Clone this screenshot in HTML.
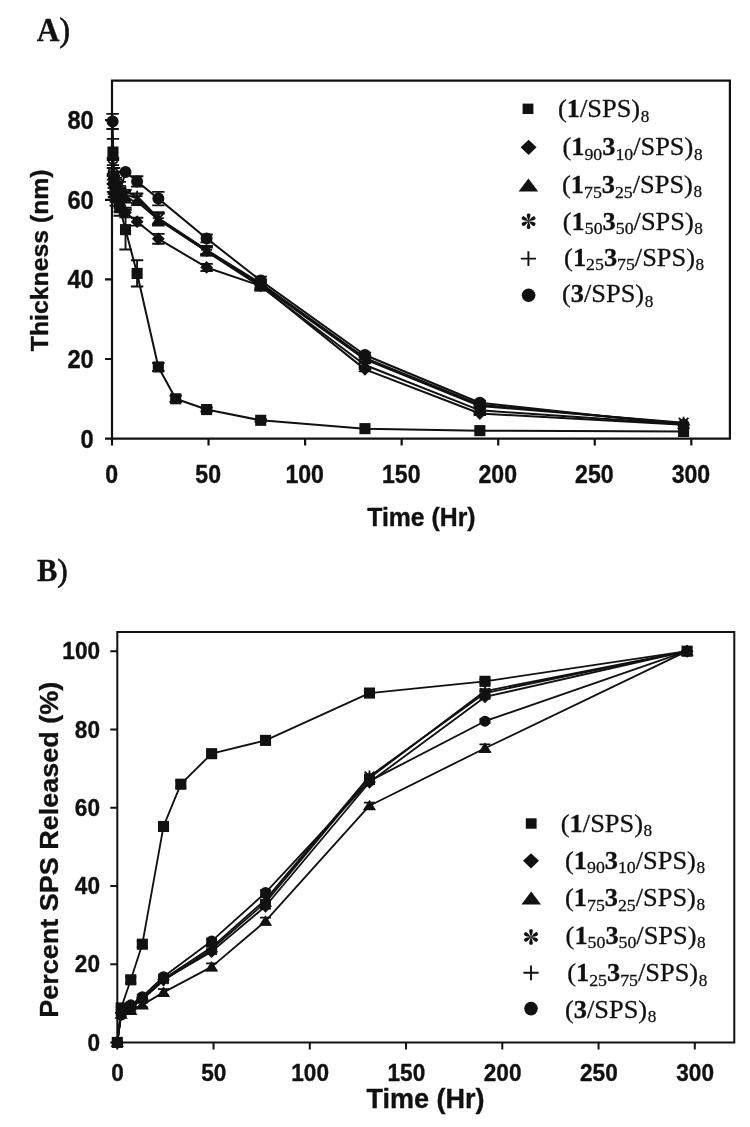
<!DOCTYPE html>
<html lang="en"><head><meta charset="utf-8"><title>Figure</title>
<style>
html,body{margin:0;padding:0;background:#fff}
svg{display:block}
text{fill:#111111}
.tk,.ax{font-family:"Liberation Sans",Arial,sans-serif;font-weight:bold}
.lg{font-family:"Liberation Serif","Times New Roman",serif;font-size:26.4px;stroke:#111111;stroke-width:0.3px}
.pn{font-family:"Liberation Serif","Times New Roman",serif;font-weight:bold;stroke:#111111;stroke-width:0.3px}
</style></head><body>
<svg width="750" height="1127" viewBox="0 0 750 1127">
<rect width="750" height="1127" fill="#fff"/>
<g id="chartA">
<path d="M112,438.6V80.6H729.9V438.6Z" fill="none" stroke="#111111" stroke-width="2.2" stroke-linejoin="miter"/>
<path d="M105,438.6H112M105,359H112M105,279.4H112M105,199.8H112M105,120.2H112M112,438.6V445.6M208.55,438.6V445.6M305.1,438.6V445.6M401.65,438.6V445.6M498.2,438.6V445.6M594.75,438.6V445.6M691.3,438.6V445.6" stroke="#111111" stroke-width="2.2" fill="none"/>
<text transform="translate(93.8,447.5) scale(1.0,1.1)" text-anchor="end" class="tk" font-size="23.7" stroke="#111111" stroke-width="0.35">0</text>
<text transform="translate(93.8,367.9) scale(1.0,1.1)" text-anchor="end" class="tk" font-size="23.7" stroke="#111111" stroke-width="0.35">20</text>
<text transform="translate(93.8,288.3) scale(1.0,1.1)" text-anchor="end" class="tk" font-size="23.7" stroke="#111111" stroke-width="0.35">40</text>
<text transform="translate(93.8,208.7) scale(1.0,1.1)" text-anchor="end" class="tk" font-size="23.7" stroke="#111111" stroke-width="0.35">60</text>
<text transform="translate(93.8,129.1) scale(1.0,1.1)" text-anchor="end" class="tk" font-size="23.7" stroke="#111111" stroke-width="0.35">80</text>
<text transform="translate(111.6,482.6) scale(1.0,1.1)" text-anchor="middle" class="tk" font-size="23.1" stroke="#111111" stroke-width="0.35">0</text>
<text transform="translate(208.15,482.6) scale(1.0,1.1)" text-anchor="middle" class="tk" font-size="23.1" stroke="#111111" stroke-width="0.35">50</text>
<text transform="translate(304.7,482.6) scale(1.0,1.1)" text-anchor="middle" class="tk" font-size="23.1" stroke="#111111" stroke-width="0.35">100</text>
<text transform="translate(401.25,482.6) scale(1.0,1.1)" text-anchor="middle" class="tk" font-size="23.1" stroke="#111111" stroke-width="0.35">150</text>
<text transform="translate(497.8,482.6) scale(1.0,1.1)" text-anchor="middle" class="tk" font-size="23.1" stroke="#111111" stroke-width="0.35">200</text>
<text transform="translate(594.35,482.6) scale(1.0,1.1)" text-anchor="middle" class="tk" font-size="23.1" stroke="#111111" stroke-width="0.35">250</text>
<text transform="translate(690.9,482.6) scale(1.0,1.1)" text-anchor="middle" class="tk" font-size="23.1" stroke="#111111" stroke-width="0.35">300</text>
<text transform="translate(421.4,525.6) scale(1.0,1.04)" text-anchor="middle" class="ax" font-size="24.8" stroke="#111111" stroke-width="0.35">Time (Hr)</text>
<text transform="translate(48.2,260.3) rotate(-90) scale(1.0,0.99)" text-anchor="middle" class="ax" font-size="24.8" stroke="#111111" stroke-width="0.35">Thickness (nm)</text>
<path d="M112.97,152.04L113.93,175.92L115.86,191.84L119.72,207.76L125.52,229.65L137.1,273.43L158.34,366.96L175.72,398.8L206.62,409.55L260.69,420.29L364.96,428.65L479.86,430.64L683.58,431.44" fill="none" stroke="#111111" stroke-width="2.0" stroke-linejoin="round"/>
<path d="M112.97,138.91V165.17M106.77,138.91H119.17M106.77,165.17H119.17M113.93,167.96V183.88M107.73,167.96H120.13M107.73,183.88H120.13M115.86,183.88V199.8M109.66,183.88H122.06M109.66,199.8H122.06M119.72,199.8V215.72M113.52,199.8H125.92M113.52,215.72H125.92M125.52,209.75V249.55M119.32,209.75H131.72M119.32,249.55H131.72M137.1,260.3V286.56M130.9,260.3H143.3M130.9,286.56H143.3M158.34,362.98V370.94M152.14,362.98H164.54M152.14,370.94H164.54M175.72,395.62V401.98M169.52,395.62H181.92M169.52,401.98H181.92M206.62,407.56V411.54M200.42,407.56H212.82M200.42,411.54H212.82M260.69,419.1V421.49M254.49,419.1H266.89M254.49,421.49H266.89" fill="none" stroke="#111111" stroke-width="1.9"/>
<rect x="107.42" y="146.49" width="11.1" height="11.1" fill="#111111"/>
<rect x="108.38" y="170.37" width="11.1" height="11.1" fill="#111111"/>
<rect x="110.31" y="186.29" width="11.1" height="11.1" fill="#111111"/>
<rect x="114.17" y="202.21" width="11.1" height="11.1" fill="#111111"/>
<rect x="119.97" y="224.1" width="11.1" height="11.1" fill="#111111"/>
<rect x="131.55" y="267.88" width="11.1" height="11.1" fill="#111111"/>
<rect x="152.79" y="361.41" width="11.1" height="11.1" fill="#111111"/>
<rect x="170.17" y="393.25" width="11.1" height="11.1" fill="#111111"/>
<rect x="201.07" y="404" width="11.1" height="11.1" fill="#111111"/>
<rect x="255.14" y="414.74" width="11.1" height="11.1" fill="#111111"/>
<rect x="359.41" y="423.1" width="11.1" height="11.1" fill="#111111"/>
<rect x="474.31" y="425.09" width="11.1" height="11.1" fill="#111111"/>
<rect x="678.03" y="425.89" width="11.1" height="11.1" fill="#111111"/>
<path d="M112.97,183.88L113.93,193.83L115.86,199.8L119.72,205.77L125.52,212.54L137.1,221.69L158.34,238.8L206.62,267.46L260.69,285.77L364.96,369.35L479.86,413.53L683.58,424.67" fill="none" stroke="#111111" stroke-width="2.0" stroke-linejoin="round"/>
<path d="M112.97,175.92V191.84M106.77,175.92H119.17M106.77,191.84H119.17M113.93,187.86V199.8M107.73,187.86H120.13M107.73,199.8H120.13M115.86,193.83V205.77M109.66,193.83H122.06M109.66,205.77H122.06M119.72,199.8V211.74M113.52,199.8H125.92M113.52,211.74H125.92M125.52,207.76V217.31M119.32,207.76H131.72M119.32,217.31H131.72M137.1,217.71V225.67M130.9,217.71H143.3M130.9,225.67H143.3M158.34,233.83V243.78M152.14,233.83H164.54M152.14,243.78H164.54M206.62,263.88V271.04M200.42,263.88H212.82M200.42,271.04H212.82M260.69,281.79V289.75M254.49,281.79H266.89M254.49,289.75H266.89M364.96,367.36V371.34M358.76,367.36H371.16M358.76,371.34H371.16M479.86,411.93V415.12M473.66,411.93H486.06M473.66,415.12H486.06" fill="none" stroke="#111111" stroke-width="1.9"/>
<polygon points="112.97,177.48 119.37,183.88 112.97,190.28 106.57,183.88" fill="#111111"/>
<polygon points="113.93,187.43 120.33,193.83 113.93,200.23 107.53,193.83" fill="#111111"/>
<polygon points="115.86,193.4 122.26,199.8 115.86,206.2 109.46,199.8" fill="#111111"/>
<polygon points="119.72,199.37 126.12,205.77 119.72,212.17 113.32,205.77" fill="#111111"/>
<polygon points="125.52,206.14 131.92,212.54 125.52,218.94 119.12,212.54" fill="#111111"/>
<polygon points="137.1,215.29 143.5,221.69 137.1,228.09 130.7,221.69" fill="#111111"/>
<polygon points="158.34,232.4 164.74,238.8 158.34,245.2 151.94,238.8" fill="#111111"/>
<polygon points="206.62,261.06 213.02,267.46 206.62,273.86 200.22,267.46" fill="#111111"/>
<polygon points="260.69,279.37 267.09,285.77 260.69,292.17 254.29,285.77" fill="#111111"/>
<polygon points="364.96,362.95 371.36,369.35 364.96,375.75 358.56,369.35" fill="#111111"/>
<polygon points="479.86,407.13 486.26,413.53 479.86,419.93 473.46,413.53" fill="#111111"/>
<polygon points="683.58,418.27 689.98,424.67 683.58,431.07 677.18,424.67" fill="#111111"/>
<path d="M112.97,175.92L113.93,189.85L115.86,195.82L119.72,201.79L125.52,199L137.1,201.39L158.34,219.7L206.62,251.54L260.69,286.56L364.96,364.97L479.86,410.34L683.58,424.27" fill="none" stroke="#111111" stroke-width="2.0" stroke-linejoin="round"/>
<path d="M112.97,167.96V183.88M106.77,167.96H119.17M106.77,183.88H119.17M113.93,182.69V197.01M107.73,182.69H120.13M107.73,197.01H120.13M115.86,189.85V201.79M109.66,189.85H122.06M109.66,201.79H122.06M119.72,195.82V207.76M113.52,195.82H125.92M113.52,207.76H125.92M158.34,213.73V225.67M152.14,213.73H164.54M152.14,225.67H164.54M206.62,247.56V255.52M200.42,247.56H212.82M200.42,255.52H212.82M260.69,282.58V290.54M254.49,282.58H266.89M254.49,290.54H266.89M364.96,362.98V366.96M358.76,362.98H371.16M358.76,366.96H371.16M479.86,408.75V411.93M473.66,408.75H486.06M473.66,411.93H486.06" fill="none" stroke="#111111" stroke-width="1.9"/>
<polygon points="112.97,169.92 119.57,180.52 106.37,180.52" fill="#111111"/>
<polygon points="113.93,183.85 120.53,194.45 107.33,194.45" fill="#111111"/>
<polygon points="115.86,189.82 122.46,200.42 109.26,200.42" fill="#111111"/>
<polygon points="119.72,195.79 126.32,206.39 113.12,206.39" fill="#111111"/>
<polygon points="125.52,193 132.12,203.6 118.92,203.6" fill="#111111"/>
<polygon points="137.1,195.39 143.7,205.99 130.5,205.99" fill="#111111"/>
<polygon points="158.34,213.7 164.94,224.3 151.74,224.3" fill="#111111"/>
<polygon points="206.62,245.54 213.22,256.14 200.02,256.14" fill="#111111"/>
<polygon points="260.69,280.56 267.29,291.16 254.09,291.16" fill="#111111"/>
<polygon points="364.96,358.97 371.56,369.57 358.36,369.57" fill="#111111"/>
<polygon points="479.86,404.34 486.46,414.94 473.26,414.94" fill="#111111"/>
<polygon points="683.58,418.27 690.18,428.87 676.98,428.87" fill="#111111"/>
<path d="M112.97,165.97L113.93,179.9L115.86,187.86L119.72,193.83L125.52,194.63L137.1,198.21L158.34,218.9L206.62,250.74L260.69,284.97L364.96,359.4L479.86,405.96L683.58,422.68" fill="none" stroke="#111111" stroke-width="2.0" stroke-linejoin="round"/>
<path d="M112.97,158.01V173.93M106.77,158.01H119.17M106.77,173.93H119.17M113.93,171.94V187.86M107.73,171.94H120.13M107.73,187.86H120.13M115.86,181.89V193.83M109.66,181.89H122.06M109.66,193.83H122.06M119.72,187.86V199.8M113.52,187.86H125.92M113.52,199.8H125.92M125.52,189.85V199.4M119.32,189.85H131.72M119.32,199.4H131.72M137.1,193.43V202.98M130.9,193.43H143.3M130.9,202.98H143.3M158.34,212.93V224.87M152.14,212.93H164.54M152.14,224.87H164.54M206.62,246.76V254.72M200.42,246.76H212.82M200.42,254.72H212.82M260.69,280.99V288.95M254.49,280.99H266.89M254.49,288.95H266.89M364.96,357.41V361.39M358.76,357.41H371.16M358.76,361.39H371.16M479.86,404.37V407.56M473.66,404.37H486.06M473.66,407.56H486.06" fill="none" stroke="#111111" stroke-width="1.9"/>
<path d="M112.97,159.97V171.97M108.17,161.17L117.77,170.77M108.17,170.77L117.77,161.17" stroke="#111111" stroke-width="1.8" fill="none"/>
<path d="M113.93,173.9V185.9M109.13,175.1L118.73,184.7M109.13,184.7L118.73,175.1" stroke="#111111" stroke-width="1.8" fill="none"/>
<path d="M115.86,181.86V193.86M111.06,183.06L120.66,192.66M111.06,192.66L120.66,183.06" stroke="#111111" stroke-width="1.8" fill="none"/>
<path d="M119.72,187.83V199.83M114.92,189.03L124.52,198.63M114.92,198.63L124.52,189.03" stroke="#111111" stroke-width="1.8" fill="none"/>
<path d="M125.52,188.63V200.63M120.72,189.83L130.32,199.43M120.72,199.43L130.32,189.83" stroke="#111111" stroke-width="1.8" fill="none"/>
<path d="M137.1,192.21V204.21M132.3,193.41L141.9,203.01M132.3,203.01L141.9,193.41" stroke="#111111" stroke-width="1.8" fill="none"/>
<path d="M158.34,212.9V224.9M153.54,214.1L163.14,223.7M153.54,223.7L163.14,214.1" stroke="#111111" stroke-width="1.8" fill="none"/>
<path d="M206.62,244.74V256.74M201.82,245.94L211.42,255.54M201.82,255.54L211.42,245.94" stroke="#111111" stroke-width="1.8" fill="none"/>
<path d="M260.69,278.97V290.97M255.89,280.17L265.49,289.77M255.89,289.77L265.49,280.17" stroke="#111111" stroke-width="1.8" fill="none"/>
<path d="M364.96,353.4V365.4M360.16,354.6L369.76,364.2M360.16,364.2L369.76,354.6" stroke="#111111" stroke-width="1.8" fill="none"/>
<path d="M479.86,399.96V411.96M475.06,401.16L484.66,410.76M475.06,410.76L484.66,401.16" stroke="#111111" stroke-width="1.8" fill="none"/>
<path d="M683.58,416.68V428.68M678.78,417.88L688.38,427.48M678.78,427.48L688.38,417.88" stroke="#111111" stroke-width="1.8" fill="none"/>
<path d="M112.97,167.96L113.93,175.92L115.86,183.88L119.72,187.86L125.52,191.84L137.1,196.22L158.34,218.11L206.62,249.95L260.69,283.38L364.96,357.81L479.86,404.77L683.58,423.48" fill="none" stroke="#111111" stroke-width="2.0" stroke-linejoin="round"/>
<path d="M112.97,160V175.92M106.77,160H119.17M106.77,175.92H119.17M113.93,167.96V183.88M107.73,167.96H120.13M107.73,183.88H120.13M115.86,177.91V189.85M109.66,177.91H122.06M109.66,189.85H122.06M119.72,181.89V193.83M113.52,181.89H125.92M113.52,193.83H125.92M158.34,212.14V224.08M152.14,212.14H164.54M152.14,224.08H164.54M206.62,245.97V253.93M200.42,245.97H212.82M200.42,253.93H212.82M260.69,279.4V287.36M254.49,279.4H266.89M254.49,287.36H266.89M364.96,355.82V359.8M358.76,355.82H371.16M358.76,359.8H371.16M479.86,403.18V406.36M473.66,403.18H486.06M473.66,406.36H486.06" fill="none" stroke="#111111" stroke-width="1.9"/>
<path d="M107.47,167.96H118.47M112.97,162.46V173.46" stroke="#111111" stroke-width="1.7" fill="none"/>
<path d="M108.43,175.92H119.43M113.93,170.42V181.42" stroke="#111111" stroke-width="1.7" fill="none"/>
<path d="M110.36,183.88H121.36M115.86,178.38V189.38" stroke="#111111" stroke-width="1.7" fill="none"/>
<path d="M114.22,187.86H125.22M119.72,182.36V193.36" stroke="#111111" stroke-width="1.7" fill="none"/>
<path d="M120.02,191.84H131.02M125.52,186.34V197.34" stroke="#111111" stroke-width="1.7" fill="none"/>
<path d="M131.6,196.22H142.6M137.1,190.72V201.72" stroke="#111111" stroke-width="1.7" fill="none"/>
<path d="M152.84,218.11H163.84M158.34,212.61V223.61" stroke="#111111" stroke-width="1.7" fill="none"/>
<path d="M201.12,249.95H212.12M206.62,244.45V255.45" stroke="#111111" stroke-width="1.7" fill="none"/>
<path d="M255.19,283.38H266.19M260.69,277.88V288.88" stroke="#111111" stroke-width="1.7" fill="none"/>
<path d="M359.46,357.81H370.46M364.96,352.31V363.31" stroke="#111111" stroke-width="1.7" fill="none"/>
<path d="M474.36,404.77H485.36M479.86,399.27V410.27" stroke="#111111" stroke-width="1.7" fill="none"/>
<path d="M678.08,423.48H689.08M683.58,417.98V428.98" stroke="#111111" stroke-width="1.7" fill="none"/>
<path d="M112.58,121.39L113.93,183.88L115.86,187.86L119.72,191.84L125.52,171.94L137.1,181.49L158.34,198.61L206.62,238.41L260.69,280.59L364.96,355.02L479.86,402.78L683.58,424.67" fill="none" stroke="#111111" stroke-width="2.0" stroke-linejoin="round"/>
<path d="M112.58,113.83V128.96M106.38,113.83H118.78M106.38,128.96H118.78M113.93,175.92V191.84M107.73,175.92H120.13M107.73,191.84H120.13M115.86,179.9V195.82M109.66,179.9H122.06M109.66,195.82H122.06M119.72,185.87V197.81M113.52,185.87H125.92M113.52,197.81H125.92M137.1,176.32V186.67M130.9,176.32H143.3M130.9,186.67H143.3M158.34,191.84V205.37M152.14,191.84H164.54M152.14,205.37H164.54M206.62,234.43V242.39M200.42,234.43H212.82M200.42,242.39H212.82M260.69,276.61V284.57M254.49,276.61H266.89M254.49,284.57H266.89M364.96,352.63V357.41M358.76,352.63H371.16M358.76,357.41H371.16M479.86,400.79V404.77M473.66,400.79H486.06M473.66,404.77H486.06" fill="none" stroke="#111111" stroke-width="1.9"/>
<circle cx="112.58" cy="121.39" r="6" fill="#111111"/>
<circle cx="113.93" cy="183.88" r="6" fill="#111111"/>
<circle cx="115.86" cy="187.86" r="6" fill="#111111"/>
<circle cx="119.72" cy="191.84" r="6" fill="#111111"/>
<circle cx="125.52" cy="171.94" r="6" fill="#111111"/>
<circle cx="137.1" cy="181.49" r="6" fill="#111111"/>
<circle cx="158.34" cy="198.61" r="6" fill="#111111"/>
<circle cx="206.62" cy="238.41" r="6" fill="#111111"/>
<circle cx="260.69" cy="280.59" r="6" fill="#111111"/>
<circle cx="364.96" cy="355.02" r="6" fill="#111111"/>
<circle cx="479.86" cy="402.78" r="6" fill="#111111"/>
<circle cx="683.58" cy="424.67" r="6" fill="#111111"/>
<rect x="522.6" y="103.6" width="10.8" height="10.4" fill="#111111"/>
<text transform="translate(558,117.3) scale(1,0.945)" class="lg">(<tspan font-weight="bold">1</tspan>/SPS)<tspan font-size="17.2" dy="4.5" dx="0.6">8</tspan></text>
<polygon points="528.6,139.7 536.6,147.3 528.6,154.9 520.6,147.3" fill="#111111"/>
<text transform="translate(562.4,155.4) scale(1,0.945)" class="lg">(<tspan font-weight="bold">1</tspan><tspan font-size="17.8" dy="4.9">90</tspan><tspan font-weight="bold" dy="-4.9">3</tspan><tspan font-size="17.8" dy="4.9">10</tspan><tspan dy="-4.9">/SPS)</tspan><tspan font-size="17.2" dy="4.5" dx="0.6">8</tspan></text>
<polygon points="528.4,178.5 538.2,191.5 518.6,191.5" fill="#111111"/>
<text transform="translate(562,193.2) scale(1,0.945)" class="lg">(<tspan font-weight="bold">1</tspan><tspan font-size="17.8" dy="4.9">75</tspan><tspan font-weight="bold" dy="-4.9">3</tspan><tspan font-size="17.8" dy="4.9">25</tspan><tspan dy="-4.9">/SPS)</tspan><tspan font-size="17.2" dy="4.5" dx="0.6">8</tspan></text>
<path transform="translate(528.6,221.2) rotate(0)" d="M0,0.3 C-0.9,-2.4 -2.2,-5.2 -1.75,-6.7 C-1.4,-8.0 1.4,-8.0 1.75,-6.7 C2.2,-5.2 0.9,-2.4 0,0.3Z" fill="#111111"/><path transform="translate(528.6,221.2) rotate(60)" d="M0,0.3 C-0.9,-2.4 -2.2,-5.2 -1.75,-6.7 C-1.4,-8.0 1.4,-8.0 1.75,-6.7 C2.2,-5.2 0.9,-2.4 0,0.3Z" fill="#111111"/><path transform="translate(528.6,221.2) rotate(120)" d="M0,0.3 C-0.9,-2.4 -2.2,-5.2 -1.75,-6.7 C-1.4,-8.0 1.4,-8.0 1.75,-6.7 C2.2,-5.2 0.9,-2.4 0,0.3Z" fill="#111111"/><path transform="translate(528.6,221.2) rotate(180)" d="M0,0.3 C-0.9,-2.4 -2.2,-5.2 -1.75,-6.7 C-1.4,-8.0 1.4,-8.0 1.75,-6.7 C2.2,-5.2 0.9,-2.4 0,0.3Z" fill="#111111"/><path transform="translate(528.6,221.2) rotate(240)" d="M0,0.3 C-0.9,-2.4 -2.2,-5.2 -1.75,-6.7 C-1.4,-8.0 1.4,-8.0 1.75,-6.7 C2.2,-5.2 0.9,-2.4 0,0.3Z" fill="#111111"/><path transform="translate(528.6,221.2) rotate(300)" d="M0,0.3 C-0.9,-2.4 -2.2,-5.2 -1.75,-6.7 C-1.4,-8.0 1.4,-8.0 1.75,-6.7 C2.2,-5.2 0.9,-2.4 0,0.3Z" fill="#111111"/>
<text transform="translate(562.8,229.8) scale(1,0.945)" class="lg">(<tspan font-weight="bold">1</tspan><tspan font-size="17.8" dy="4.9">50</tspan><tspan font-weight="bold" dy="-4.9">3</tspan><tspan font-size="17.8" dy="4.9">50</tspan><tspan dy="-4.9">/SPS)</tspan><tspan font-size="17.2" dy="4.5" dx="0.6">8</tspan></text>
<path d="M520.8,258.6H536M528.4,251.2V266" stroke="#111111" stroke-width="1.9" fill="none"/>
<text transform="translate(564.1,265.5) scale(1,0.945)" class="lg">(<tspan font-weight="bold">1</tspan><tspan font-size="17.8" dy="4.9">25</tspan><tspan font-weight="bold" dy="-4.9">3</tspan><tspan font-size="17.8" dy="4.9">75</tspan><tspan dy="-4.9">/SPS)</tspan><tspan font-size="17.2" dy="4.5" dx="0.6">8</tspan></text>
<circle cx="528.6" cy="295.2" r="6.8" fill="#111111"/>
<text transform="translate(562,302.3) scale(1,0.945)" class="lg">(<tspan font-weight="bold">3</tspan>/SPS)<tspan font-size="17.2" dy="4.5" dx="0.6">8</tspan></text>
<text transform="translate(36.8,40.8) scale(0.94,1.0)" text-anchor="start" class="pn" font-size="33.5">A<tspan font-weight="normal" stroke="#111111" stroke-width="0.7">)</tspan></text>
</g>
<g id="chartB">
<path d="M117.3,1042.4V632H734.3V1042.4Z" fill="none" stroke="#111111" stroke-width="2" stroke-linejoin="miter"/>
<path d="M110.3,1042.4H117.3M110.3,964.16H117.3M110.3,885.92H117.3M110.3,807.68H117.3M110.3,729.44H117.3M110.3,651.2H117.3M117.3,1042.4V1049.4M213.55,1042.4V1049.4M309.8,1042.4V1049.4M406.05,1042.4V1049.4M502.3,1042.4V1049.4M598.55,1042.4V1049.4M694.8,1042.4V1049.4" stroke="#111111" stroke-width="2" fill="none"/>
<text transform="translate(100,1050.5) scale(1.0,1.06)" text-anchor="end" class="tk" font-size="22.6" stroke="#111111" stroke-width="0.35">0</text>
<text transform="translate(100,972.26) scale(1.0,1.06)" text-anchor="end" class="tk" font-size="22.6" stroke="#111111" stroke-width="0.35">20</text>
<text transform="translate(100,894.02) scale(1.0,1.06)" text-anchor="end" class="tk" font-size="22.6" stroke="#111111" stroke-width="0.35">40</text>
<text transform="translate(100,815.78) scale(1.0,1.06)" text-anchor="end" class="tk" font-size="22.6" stroke="#111111" stroke-width="0.35">60</text>
<text transform="translate(100,737.54) scale(1.0,1.06)" text-anchor="end" class="tk" font-size="22.6" stroke="#111111" stroke-width="0.35">80</text>
<text transform="translate(100,659.3) scale(1.0,1.06)" text-anchor="end" class="tk" font-size="22.6" stroke="#111111" stroke-width="0.35">100</text>
<text transform="translate(117.6,1081) scale(1.0,1.06)" text-anchor="middle" class="tk" font-size="22.6" stroke="#111111" stroke-width="0.35">0</text>
<text transform="translate(213.85,1081) scale(1.0,1.06)" text-anchor="middle" class="tk" font-size="22.6" stroke="#111111" stroke-width="0.35">50</text>
<text transform="translate(310.1,1081) scale(1.0,1.06)" text-anchor="middle" class="tk" font-size="22.6" stroke="#111111" stroke-width="0.35">100</text>
<text transform="translate(406.35,1081) scale(1.0,1.06)" text-anchor="middle" class="tk" font-size="22.6" stroke="#111111" stroke-width="0.35">150</text>
<text transform="translate(502.6,1081) scale(1.0,1.06)" text-anchor="middle" class="tk" font-size="22.6" stroke="#111111" stroke-width="0.35">200</text>
<text transform="translate(598.85,1081) scale(1.0,1.06)" text-anchor="middle" class="tk" font-size="22.6" stroke="#111111" stroke-width="0.35">250</text>
<text transform="translate(695.1,1081) scale(1.0,1.06)" text-anchor="middle" class="tk" font-size="22.6" stroke="#111111" stroke-width="0.35">300</text>
<text transform="translate(425.4,1108.2) scale(1.0,1.03)" text-anchor="middle" class="ax" font-size="27" stroke="#111111" stroke-width="0.35">Time (Hr)</text>
<text transform="translate(57.6,849.7) rotate(-90) scale(1.0,0.97)" text-anchor="middle" class="ax" font-size="27" stroke="#111111" stroke-width="0.35">Percent SPS Released (%)</text>
<path d="M117.3,1042.4L121.15,1007.97L130.78,979.81L142.32,944.21L163.5,826.46L180.82,784.21L211.62,753.69L265.52,740.39L369.48,693.06L484.98,681.32L687.1,651.2" fill="none" stroke="#111111" stroke-width="1.85" stroke-linejoin="round"/>
<path d="M130.78,976.68V982.94M125.28,976.68H136.28M125.28,982.94H136.28M142.32,941.08V947.34M136.82,941.08H147.82M136.82,947.34H147.82M163.5,822.55V830.37M158,822.55H169M158,830.37H169M180.82,781.08V787.34M175.32,781.08H186.32M175.32,787.34H186.32M211.62,751.35V756.04M206.12,751.35H217.12M206.12,756.04H217.12M265.52,738.44V742.35M260.02,738.44H271.02M260.02,742.35H271.02M369.48,691.1V695.01M363.98,691.1H374.98M363.98,695.01H374.98M484.98,679.37V683.28M479.48,679.37H490.48M479.48,683.28H490.48" fill="none" stroke="#111111" stroke-width="1.8"/>
<rect x="111.75" y="1036.85" width="11.1" height="11.1" fill="#111111"/>
<rect x="115.6" y="1002.42" width="11.1" height="11.1" fill="#111111"/>
<rect x="125.23" y="974.26" width="11.1" height="11.1" fill="#111111"/>
<rect x="136.77" y="938.66" width="11.1" height="11.1" fill="#111111"/>
<rect x="157.95" y="820.91" width="11.1" height="11.1" fill="#111111"/>
<rect x="175.27" y="778.66" width="11.1" height="11.1" fill="#111111"/>
<rect x="206.07" y="748.14" width="11.1" height="11.1" fill="#111111"/>
<rect x="259.97" y="734.84" width="11.1" height="11.1" fill="#111111"/>
<rect x="363.93" y="687.51" width="11.1" height="11.1" fill="#111111"/>
<rect x="479.43" y="675.77" width="11.1" height="11.1" fill="#111111"/>
<rect x="681.55" y="645.65" width="11.1" height="11.1" fill="#111111"/>
<path d="M117.3,1042.4L121.15,1013.06L130.78,1007.19L142.32,999.37L163.5,979.81L211.62,951.64L265.52,906.26L369.48,782.25L484.98,696.97L687.1,651.2" fill="none" stroke="#111111" stroke-width="1.85" stroke-linejoin="round"/>
<path d="M130.78,1005.63V1008.76M125.28,1005.63H136.28M125.28,1008.76H136.28M142.32,997.8V1000.93M136.82,997.8H147.82M136.82,1000.93H147.82M163.5,977.85V981.76M158,977.85H169M158,981.76H169M211.62,949.29V953.99M206.12,949.29H217.12M206.12,953.99H217.12M265.52,903.92V908.61M260.02,903.92H271.02M260.02,908.61H271.02M369.48,780.3V784.21M363.98,780.3H374.98M363.98,784.21H374.98M484.98,695.01V698.93M479.48,695.01H490.48M479.48,698.93H490.48" fill="none" stroke="#111111" stroke-width="1.8"/>
<polygon points="117.3,1036 123.7,1042.4 117.3,1048.8 110.9,1042.4" fill="#111111"/>
<polygon points="121.15,1006.66 127.55,1013.06 121.15,1019.46 114.75,1013.06" fill="#111111"/>
<polygon points="130.78,1000.79 137.18,1007.19 130.78,1013.59 124.38,1007.19" fill="#111111"/>
<polygon points="142.32,992.97 148.72,999.37 142.32,1005.77 135.92,999.37" fill="#111111"/>
<polygon points="163.5,973.41 169.9,979.81 163.5,986.21 157.1,979.81" fill="#111111"/>
<polygon points="211.62,945.24 218.03,951.64 211.62,958.04 205.22,951.64" fill="#111111"/>
<polygon points="265.52,899.86 271.92,906.26 265.52,912.66 259.12,906.26" fill="#111111"/>
<polygon points="369.48,775.85 375.88,782.25 369.48,788.65 363.08,782.25" fill="#111111"/>
<polygon points="484.98,690.57 491.38,696.97 484.98,703.37 478.58,696.97" fill="#111111"/>
<polygon points="687.1,644.8 693.5,651.2 687.1,657.6 680.7,651.2" fill="#111111"/>
<path d="M117.3,1042.4L121.15,1014.23L130.78,1010.32L142.32,1004.84L163.5,992.33L211.62,966.9L265.52,921.13L369.48,805.72L484.98,748.22L687.1,651.2" fill="none" stroke="#111111" stroke-width="1.85" stroke-linejoin="round"/>
<path d="M130.78,1008.37V1012.28M125.28,1008.37H136.28M125.28,1012.28H136.28M142.32,1002.5V1007.19M136.82,1002.5H147.82M136.82,1007.19H147.82M163.5,989.2V995.46M158,989.2H169M158,995.46H169M211.62,963.38V970.42M206.12,963.38H217.12M206.12,970.42H217.12M265.52,917.61V924.65M260.02,917.61H271.02M260.02,924.65H271.02M369.48,802.59V808.85M363.98,802.59H374.98M363.98,808.85H374.98M484.98,744.31V752.13M479.48,744.31H490.48M479.48,752.13H490.48" fill="none" stroke="#111111" stroke-width="1.8"/>
<polygon points="117.3,1036.4 123.9,1047 110.7,1047" fill="#111111"/>
<polygon points="121.15,1008.23 127.75,1018.83 114.55,1018.83" fill="#111111"/>
<polygon points="130.78,1004.32 137.38,1014.92 124.18,1014.92" fill="#111111"/>
<polygon points="142.32,998.84 148.92,1009.44 135.72,1009.44" fill="#111111"/>
<polygon points="163.5,986.33 170.1,996.93 156.9,996.93" fill="#111111"/>
<polygon points="211.62,960.9 218.22,971.5 205.03,971.5" fill="#111111"/>
<polygon points="265.52,915.13 272.12,925.73 258.92,925.73" fill="#111111"/>
<polygon points="369.48,799.72 376.08,810.32 362.88,810.32" fill="#111111"/>
<polygon points="484.98,742.22 491.58,752.82 478.38,752.82" fill="#111111"/>
<polygon points="687.1,645.2 693.7,655.8 680.5,655.8" fill="#111111"/>
<path d="M117.3,1042.4L121.15,1011.89L130.78,1006.41L142.32,998.59L163.5,979.03L211.62,947.34L265.52,899.61L369.48,776.38L484.98,693.06L687.1,651.2" fill="none" stroke="#111111" stroke-width="1.85" stroke-linejoin="round"/>
<path d="M130.78,1004.84V1007.97M125.28,1004.84H136.28M125.28,1007.97H136.28M142.32,997.02V1000.15M136.82,997.02H147.82M136.82,1000.15H147.82M163.5,977.07V980.98M158,977.07H169M158,980.98H169M211.62,944.99V949.69M206.12,944.99H217.12M206.12,949.69H217.12M265.52,897.26V901.96M260.02,897.26H271.02M260.02,901.96H271.02M369.48,774.43V778.34M363.98,774.43H374.98M363.98,778.34H374.98M484.98,691.1V695.01M479.48,691.1H490.48M479.48,695.01H490.48" fill="none" stroke="#111111" stroke-width="1.8"/>
<path d="M117.3,1036.4V1048.4M112.5,1037.6L122.1,1047.2M112.5,1047.2L122.1,1037.6" stroke="#111111" stroke-width="1.8" fill="none"/>
<path d="M121.15,1005.89V1017.89M116.35,1007.09L125.95,1016.69M116.35,1016.69L125.95,1007.09" stroke="#111111" stroke-width="1.8" fill="none"/>
<path d="M130.78,1000.41V1012.41M125.98,1001.61L135.58,1011.21M125.98,1011.21L135.58,1001.61" stroke="#111111" stroke-width="1.8" fill="none"/>
<path d="M142.32,992.59V1004.59M137.52,993.79L147.12,1003.39M137.52,1003.39L147.12,993.79" stroke="#111111" stroke-width="1.8" fill="none"/>
<path d="M163.5,973.03V985.03M158.7,974.23L168.3,983.83M158.7,983.83L168.3,974.23" stroke="#111111" stroke-width="1.8" fill="none"/>
<path d="M211.62,941.34V953.34M206.82,942.54L216.43,952.14M206.82,952.14L216.43,942.54" stroke="#111111" stroke-width="1.8" fill="none"/>
<path d="M265.52,893.61V905.61M260.72,894.81L270.32,904.41M260.72,904.41L270.32,894.81" stroke="#111111" stroke-width="1.8" fill="none"/>
<path d="M369.48,770.38V782.38M364.68,771.58L374.28,781.18M364.68,781.18L374.28,771.58" stroke="#111111" stroke-width="1.8" fill="none"/>
<path d="M484.98,687.06V699.06M480.18,688.26L489.78,697.86M480.18,697.86L489.78,688.26" stroke="#111111" stroke-width="1.8" fill="none"/>
<path d="M687.1,645.2V657.2M682.3,646.4L691.9,656M682.3,656L691.9,646.4" stroke="#111111" stroke-width="1.8" fill="none"/>
<path d="M117.3,1042.4L121.15,1012.67L130.78,1007.19L142.32,999.37L163.5,980.59L211.62,949.29L265.52,902.35L369.48,777.95L484.98,691.1L687.1,651.2" fill="none" stroke="#111111" stroke-width="1.85" stroke-linejoin="round"/>
<path d="M130.78,1005.63V1008.76M125.28,1005.63H136.28M125.28,1008.76H136.28M142.32,997.8V1000.93M136.82,997.8H147.82M136.82,1000.93H147.82M163.5,978.63V982.55M158,978.63H169M158,982.55H169M211.62,946.95V951.64M206.12,946.95H217.12M206.12,951.64H217.12M265.52,900V904.7M260.02,900H271.02M260.02,904.7H271.02M369.48,775.99V779.9M363.98,775.99H374.98M363.98,779.9H374.98M484.98,689.15V693.06M479.48,689.15H490.48M479.48,693.06H490.48" fill="none" stroke="#111111" stroke-width="1.8"/>
<path d="M111.8,1042.4H122.8M117.3,1036.9V1047.9" stroke="#111111" stroke-width="1.7" fill="none"/>
<path d="M115.65,1012.67H126.65M121.15,1007.17V1018.17" stroke="#111111" stroke-width="1.7" fill="none"/>
<path d="M125.28,1007.19H136.28M130.78,1001.69V1012.69" stroke="#111111" stroke-width="1.7" fill="none"/>
<path d="M136.82,999.37H147.82M142.32,993.87V1004.87" stroke="#111111" stroke-width="1.7" fill="none"/>
<path d="M158,980.59H169M163.5,975.09V986.09" stroke="#111111" stroke-width="1.7" fill="none"/>
<path d="M206.12,949.29H217.12M211.62,943.79V954.79" stroke="#111111" stroke-width="1.7" fill="none"/>
<path d="M260.02,902.35H271.02M265.52,896.85V907.85" stroke="#111111" stroke-width="1.7" fill="none"/>
<path d="M363.98,777.95H374.98M369.48,772.45V783.45" stroke="#111111" stroke-width="1.7" fill="none"/>
<path d="M479.48,691.1H490.48M484.98,685.6V696.6" stroke="#111111" stroke-width="1.7" fill="none"/>
<path d="M681.6,651.2H692.6M687.1,645.7V656.7" stroke="#111111" stroke-width="1.7" fill="none"/>
<path d="M117.3,1042.4L121.15,1015.02L130.78,1004.84L142.32,996.63L163.5,976.68L211.62,941.08L265.52,892.57L369.48,781.08L484.98,721.22L687.1,651.2" fill="none" stroke="#111111" stroke-width="1.85" stroke-linejoin="round"/>
<path d="M130.78,1003.28V1006.41M125.28,1003.28H136.28M125.28,1006.41H136.28M142.32,995.06V998.19M136.82,995.06H147.82M136.82,998.19H147.82M163.5,974.72V978.63M158,974.72H169M158,978.63H169M211.62,938.73V943.43M206.12,938.73H217.12M206.12,943.43H217.12M265.52,890.22V894.92M260.02,890.22H271.02M260.02,894.92H271.02M369.48,779.12V783.03M363.98,779.12H374.98M363.98,783.03H374.98M484.98,719.27V723.18M479.48,719.27H490.48M479.48,723.18H490.48" fill="none" stroke="#111111" stroke-width="1.8"/>
<circle cx="117.3" cy="1042.4" r="5.5" fill="#111111"/>
<circle cx="121.15" cy="1015.02" r="5.5" fill="#111111"/>
<circle cx="130.78" cy="1004.84" r="5.5" fill="#111111"/>
<circle cx="142.32" cy="996.63" r="5.5" fill="#111111"/>
<circle cx="163.5" cy="976.68" r="5.5" fill="#111111"/>
<circle cx="211.62" cy="941.08" r="5.5" fill="#111111"/>
<circle cx="265.52" cy="892.57" r="5.5" fill="#111111"/>
<circle cx="369.48" cy="781.08" r="5.5" fill="#111111"/>
<circle cx="484.98" cy="721.22" r="5.5" fill="#111111"/>
<circle cx="687.1" cy="651.2" r="5.5" fill="#111111"/>
<rect x="525.8" y="818.3" width="10.8" height="10.4" fill="#111111"/>
<text transform="translate(560.8,831.6) scale(1,0.945)" class="lg">(<tspan font-weight="bold">1</tspan>/SPS)<tspan font-size="17.2" dy="4.5" dx="0.6">8</tspan></text>
<polygon points="531,853.2 539,860.8 531,868.4 523,860.8" fill="#111111"/>
<text transform="translate(565,868.8) scale(1,0.945)" class="lg">(<tspan font-weight="bold">1</tspan><tspan font-size="17.8" dy="4.9">90</tspan><tspan font-weight="bold" dy="-4.9">3</tspan><tspan font-size="17.8" dy="4.9">10</tspan><tspan dy="-4.9">/SPS)</tspan><tspan font-size="17.2" dy="4.5" dx="0.6">8</tspan></text>
<polygon points="531.2,891.6 541,904.6 521.4,904.6" fill="#111111"/>
<text transform="translate(565,906.2) scale(1,0.945)" class="lg">(<tspan font-weight="bold">1</tspan><tspan font-size="17.8" dy="4.9">75</tspan><tspan font-weight="bold" dy="-4.9">3</tspan><tspan font-size="17.8" dy="4.9">25</tspan><tspan dy="-4.9">/SPS)</tspan><tspan font-size="17.2" dy="4.5" dx="0.6">8</tspan></text>
<path transform="translate(531,937) rotate(0)" d="M0,0.3 C-0.9,-2.4 -2.2,-5.2 -1.75,-6.7 C-1.4,-8.0 1.4,-8.0 1.75,-6.7 C2.2,-5.2 0.9,-2.4 0,0.3Z" fill="#111111"/><path transform="translate(531,937) rotate(60)" d="M0,0.3 C-0.9,-2.4 -2.2,-5.2 -1.75,-6.7 C-1.4,-8.0 1.4,-8.0 1.75,-6.7 C2.2,-5.2 0.9,-2.4 0,0.3Z" fill="#111111"/><path transform="translate(531,937) rotate(120)" d="M0,0.3 C-0.9,-2.4 -2.2,-5.2 -1.75,-6.7 C-1.4,-8.0 1.4,-8.0 1.75,-6.7 C2.2,-5.2 0.9,-2.4 0,0.3Z" fill="#111111"/><path transform="translate(531,937) rotate(180)" d="M0,0.3 C-0.9,-2.4 -2.2,-5.2 -1.75,-6.7 C-1.4,-8.0 1.4,-8.0 1.75,-6.7 C2.2,-5.2 0.9,-2.4 0,0.3Z" fill="#111111"/><path transform="translate(531,937) rotate(240)" d="M0,0.3 C-0.9,-2.4 -2.2,-5.2 -1.75,-6.7 C-1.4,-8.0 1.4,-8.0 1.75,-6.7 C2.2,-5.2 0.9,-2.4 0,0.3Z" fill="#111111"/><path transform="translate(531,937) rotate(300)" d="M0,0.3 C-0.9,-2.4 -2.2,-5.2 -1.75,-6.7 C-1.4,-8.0 1.4,-8.0 1.75,-6.7 C2.2,-5.2 0.9,-2.4 0,0.3Z" fill="#111111"/>
<text transform="translate(565.6,943.6) scale(1,0.945)" class="lg">(<tspan font-weight="bold">1</tspan><tspan font-size="17.8" dy="4.9">50</tspan><tspan font-weight="bold" dy="-4.9">3</tspan><tspan font-size="17.8" dy="4.9">50</tspan><tspan dy="-4.9">/SPS)</tspan><tspan font-size="17.2" dy="4.5" dx="0.6">8</tspan></text>
<path d="M523.4,972.8H538.6M531,965.4V980.2" stroke="#111111" stroke-width="1.9" fill="none"/>
<text transform="translate(567.2,981.4) scale(1,0.945)" class="lg">(<tspan font-weight="bold">1</tspan><tspan font-size="17.8" dy="4.9">25</tspan><tspan font-weight="bold" dy="-4.9">3</tspan><tspan font-size="17.8" dy="4.9">75</tspan><tspan dy="-4.9">/SPS)</tspan><tspan font-size="17.2" dy="4.5" dx="0.6">8</tspan></text>
<circle cx="531" cy="1008.6" r="6.8" fill="#111111"/>
<text transform="translate(565,1018.2) scale(1,0.945)" class="lg">(<tspan font-weight="bold">3</tspan>/SPS)<tspan font-size="17.2" dy="4.5" dx="0.6">8</tspan></text>
<text transform="translate(37,581.4) scale(0.95,1.0)" text-anchor="start" class="pn" font-size="32.2">B<tspan font-weight="normal" stroke="#111111" stroke-width="0.7">)</tspan></text>
</g>
</svg>
</body></html>
